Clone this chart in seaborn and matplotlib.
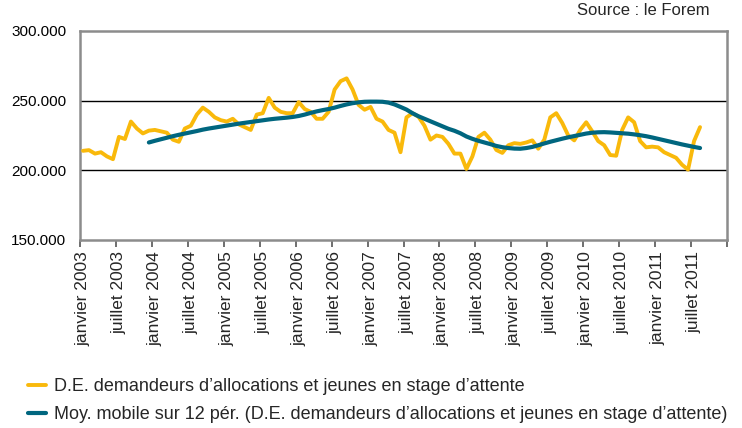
import matplotlib
matplotlib.use("Agg")
import matplotlib.pyplot as plt
import seaborn as sns
import pandas as pd
from matplotlib.ticker import FixedLocator, FuncFormatter
from matplotlib.lines import Line2D

# monthly values, janvier 2003 -> août 2011 (in thousands)
de_values = [
    214, 214.5, 212, 213, 210, 208, 224, 222.5, 235, 230, 226.5, 228.5,   # 2003
    229, 228, 227, 222, 220.5, 230, 232, 240, 245, 242, 238, 236,         # 2004
    235, 237, 233, 231, 229, 240, 241, 252, 245, 242, 241, 241,           # 2005
    249, 244, 242, 237, 237, 242, 258, 264, 266, 258, 247, 243.5,         # 2006
    245.5, 237, 235, 229, 227, 213, 238, 241, 238.5, 232, 222, 225,       # 2007
    224, 219, 212, 212, 201, 210, 224, 227, 222, 214.6, 212.5, 218,       # 2008
    219.5, 219, 220, 221.5, 215.5, 222, 238, 241, 234, 225, 221.5, 229,   # 2009
    234.5, 228, 221, 218, 211, 210.5, 229, 238, 234.5, 221, 216.5, 217,   # 2010
    216.5, 213, 211, 209, 204, 200.5, 221, 231,                           # 2011
]

# 12-month moving average, starts décembre 2003 (in thousands)
ma_values = [
    220,                                                                  # 2003-12
    221.2, 222.3, 223.4, 224.5, 225.5, 226.4, 227.3, 228.2, 229.2, 230, 230.7, 231.4,
    232.1, 232.8, 233.5, 234.1, 234.7, 235.3, 235.9, 236.5, 237, 237.4, 237.8, 238.3,
    239, 240, 241.2, 242.3, 243.2, 244, 245, 246.2, 247.3, 248.2, 248.8, 249.2,
    249.3, 249.3, 249.2, 248.6, 247.3, 245.5, 243.6, 241, 238.8, 237, 235.2, 233.4,
    231.6, 229.8, 228.4, 226.6, 224.3, 222.6, 221.2, 220, 218.8, 217.5, 216.6, 216,
    215.6, 215.5, 216, 216.8, 218, 219.3, 220.5, 221.6, 222.7, 223.7, 224.6, 225.5,
    226.4, 227, 227.3, 227.4, 227.2, 226.9, 226.6, 226.3, 225.8, 225.2, 224.5, 223.6,
    222.6, 221.6, 220.6, 219.6, 218.6, 217.7, 216.8, 216,
]

years = list(range(2003, 2012))
tick_labels = [f"{m} {y}" for y in years for m in ("janvier", "juillet")]

label_de = "D.E. demandeurs d\u2019allocations et jeunes en stage d\u2019attente"
label_ma = ("Moy. mobile sur 12 p\u00e9r. (D.E. demandeurs d\u2019allocations "
            "et jeunes en stage d\u2019attente)")

yellow = "#F9B90B"
teal = "#00667F"
frame = "#8C8C8C"

df_de = pd.DataFrame({"mois": range(len(de_values)),
                      "valeur": [v * 1000 for v in de_values]})
offset = len(de_values) - len(ma_values)
df_ma = pd.DataFrame({"mois": range(offset, len(de_values)),
                      "valeur": [v * 1000 for v in ma_values]})

sns.set_style("white")
plt.rcParams["font.family"] = ["Liberation Sans", "DejaVu Sans"]

fig = plt.figure(figsize=(7.42, 4.28), dpi=100)
ax = fig.add_axes([80 / 742, 1 - 240 / 428, 647 / 742, 209 / 428])

sns.lineplot(data=df_de, x="mois", y="valeur", ax=ax, color=yellow,
             linewidth=2.8, zorder=3)
sns.lineplot(data=df_ma, x="mois", y="valeur", ax=ax, color=teal,
             linewidth=3.0, zorder=4)

ax.set_xlim(-0.5, 107.5)
ax.set_ylim(150000, 300000)
ax.set_xlabel("")
ax.set_ylabel("")

for yv in (200000, 250000):
    ax.axhline(yv, color="black", linewidth=1.0, zorder=1)

ax.yaxis.set_major_locator(FixedLocator([150000, 200000, 250000, 300000]))
ax.yaxis.set_major_formatter(
    FuncFormatter(lambda v, p: f"{int(v):,}".replace(",", ".")))
ax.tick_params(axis="y", length=0, pad=10, labelsize=11, colors="black")

ax.xaxis.set_major_locator(FixedLocator([6 * k for k in range(len(tick_labels))]))
ax.set_xticklabels(tick_labels, rotation=90, fontsize=12.5)
ax.xaxis.set_minor_locator(FixedLocator([-0.5 + 6 * k for k in range(19)]))
ax.tick_params(axis="x", which="major", length=0, pad=8)
ax.tick_params(axis="x", which="minor", length=5, width=1.2, color="#555555",
               direction="out", bottom=True)

for side, sp in ax.spines.items():
    sp.set_visible(True)
    sp.set_color(frame)
    sp.set_linewidth(1.8)

fig.text(710 / 742, 1 - 3 / 428, "Source : le Forem", ha="right", va="top",
         fontsize=12)

handles = [Line2D([], [], color=yellow, linewidth=2.8),
           Line2D([], [], color=teal, linewidth=3.0)]
fig.legend(handles, [label_de, label_ma], loc="upper left",
           bbox_to_anchor=(28 / 742, 1 - 378 / 428), frameon=False,
           fontsize=13, handlelength=1.0, handletextpad=0.45,
           labelspacing=0.6, borderpad=0, borderaxespad=0)

fig.savefig("out.png", dpi=100)
